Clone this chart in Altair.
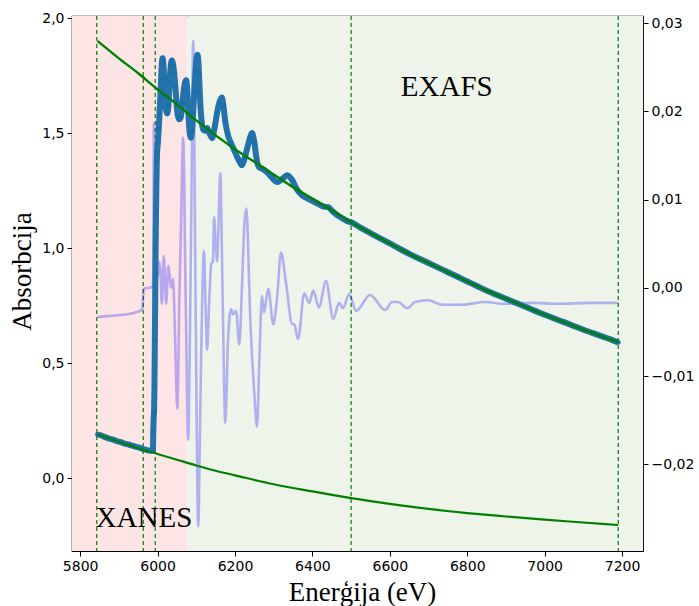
import altair as alt
import pandas as pd

# ---------------- data ----------------
# measured absorption (mu)
mu_E = [5845, 5855, 5865, 5875, 5885, 5895, 5905, 5915, 5925, 5935, 5945, 5955, 5963, 5970, 5978,
        5985, 5988, 5989, 5990, 5991, 5992, 5993, 5994, 5995, 5996, 5997, 5998, 5999, 6001, 6003,
        6005, 6007, 6009, 6011, 6013, 6015, 6017, 6019, 6022, 6025, 6028, 6031, 6034, 6037, 6040,
        6043, 6046, 6049, 6052, 6056, 6060, 6064, 6068, 6071, 6074, 6077, 6080, 6083, 6086, 6089,
        6092, 6095, 6098, 6101, 6103, 6105, 6107, 6109, 6111, 6114, 6118, 6123, 6128, 6134, 6141,
        6147, 6154, 6160, 6166, 6170, 6175, 6182, 6190, 6198, 6206, 6212, 6218, 6224, 6231, 6238,
        6244, 6250, 6256, 6262, 6270, 6283, 6296, 6309, 6322, 6335, 6348, 6360, 6372, 6385, 6400,
        6415, 6430, 6441, 6452, 6465, 6480, 6492, 6500, 6525, 6550, 6575, 6600, 6625, 6650, 6675,
        6700, 6725, 6750, 6775, 6800, 6825, 6850, 6875, 6900, 6925, 6950, 6975, 7000, 7025, 7050,
        7075, 7100, 7125, 7150, 7175, 7190]
mu_val = [0.190, 0.185, 0.178, 0.172, 0.167, 0.161, 0.156, 0.150, 0.146, 0.141, 0.136, 0.131, 0.126, 0.123, 0.120,
          0.118, 0.125, 0.200, 0.265, 0.290, 0.400, 0.600, 0.800, 1.000, 1.150, 1.280, 1.370, 1.420, 1.460, 1.520,
          1.580, 1.650, 1.730, 1.800, 1.825, 1.800, 1.740, 1.660, 1.600, 1.585, 1.620, 1.720, 1.790, 1.815, 1.800,
          1.760, 1.700, 1.630, 1.580, 1.560, 1.570, 1.630, 1.690, 1.720, 1.730, 1.680, 1.580, 1.500, 1.480, 1.510,
          1.590, 1.680, 1.770, 1.830, 1.840, 1.820, 1.760, 1.680, 1.610, 1.550, 1.515, 1.510, 1.522, 1.500, 1.478,
          1.520, 1.590, 1.635, 1.655, 1.620, 1.550, 1.490, 1.455, 1.425, 1.395, 1.375, 1.360, 1.385, 1.430, 1.475,
          1.500, 1.460, 1.385, 1.352, 1.345, 1.330, 1.305, 1.287, 1.300, 1.317, 1.295, 1.255, 1.232, 1.218, 1.205,
          1.192, 1.180, 1.178, 1.160, 1.142, 1.127, 1.116, 1.112, 1.088, 1.065, 1.042, 1.020, 0.997, 0.975, 0.955,
          0.935, 0.915, 0.895, 0.875, 0.855, 0.835, 0.815, 0.797, 0.780, 0.762, 0.745, 0.727, 0.710, 0.694, 0.678,
          0.661, 0.645, 0.630, 0.615, 0.600, 0.590]

# pre-edge fit (lower green curve)
pre_E = [5845, 5900, 5950, 6000, 6050, 6100, 6150, 6200, 6300, 6400, 6500, 6600, 6700, 6800, 6900, 7000, 7100, 7190]
pre_val = [0.190, 0.158, 0.130, 0.105, 0.080, 0.055, 0.032, 0.012, -0.027, -0.058, -0.087, -0.112, -0.134,
           -0.152, -0.167, -0.181, -0.193, -0.204]

# post-edge fit (upper green curve)
post_E = [5845, 5900, 5950, 6000, 6050, 6100, 6150, 6200, 6250, 6300, 6350, 6400, 6450, 6500, 6550, 6600,
          6650, 6700, 6750, 6800, 6850, 6900, 6950, 7000, 7050, 7100, 7150, 7190]
post_val = [1.900, 1.825, 1.760, 1.690, 1.625, 1.555, 1.490, 1.430, 1.375, 1.320, 1.265, 1.215, 1.165, 1.112,
            1.065, 1.020, 0.975, 0.935, 0.895, 0.855, 0.815, 0.780, 0.745, 0.710, 0.678, 0.645, 0.615, 0.590]

# derivative (right axis)
der_E = [5845, 5870, 5895, 5920, 5940, 5955, 5961, 5963, 5965, 5975, 5987, 5989, 5990.5, 5992, 5996,
         6000, 6004, 6008, 6011, 6016, 6022, 6028, 6035, 6040, 6045, 6051, 6056, 6061, 6066, 6071,
         6075, 6079, 6084, 6088, 6092, 6097, 6101, 6105, 6110, 6115, 6120, 6124, 6128, 6133, 6139,
         6143, 6146, 6150, 6154, 6158, 6162, 6166, 6170, 6175, 6182, 6190, 6195, 6203, 6211, 6218,
         6224, 6229, 6240, 6250, 6257, 6263, 6270, 6275, 6286, 6299, 6309, 6319, 6332, 6348, 6353,
         6363, 6379, 6392, 6402, 6417, 6435, 6454, 6469, 6479, 6495, 6513, 6549, 6588, 6606, 6621,
         6645, 6665, 6699, 6735, 6787, 6846, 6898, 6968, 7035, 7122, 7190]
der_val = [-0.0033, -0.0032, -0.0031, -0.0030, -0.0028, -0.0026, -0.0023, -0.0008, -0.0001, 0.0000, 0.0001,
           0.0015, 0.0186, 0.0060, 0.0030, 0.0011, 0.0030, 0.0015, -0.0018, 0.0036, -0.0018, 0.0025, 0.0000,
           0.0010, -0.0052, -0.0137, -0.0020, 0.0080, 0.0170, 0.0040, -0.0080, -0.0172, -0.0040, 0.0120,
           0.0280, 0.0050, -0.0150, -0.0270, -0.0150, -0.0020, 0.0042, -0.0020, -0.0070, -0.0020, 0.0028,
           0.0030, 0.0080, 0.0050, 0.0030, 0.0080, 0.0130, 0.0050, -0.0060, -0.0153, -0.0060, -0.0024,
           -0.0030, -0.0026, -0.0064, 0.0000, 0.0070, 0.0090, -0.0040, -0.0120, -0.0157, -0.0080, -0.0009,
           -0.0028, -0.0001, -0.0041, -0.0010, 0.0040, 0.0005, -0.0041, -0.0041, -0.0058, -0.0006, -0.0017,
           -0.0003, -0.0022, 0.0008, -0.0035, -0.0017, -0.0023, -0.0007, -0.0026, -0.0008, -0.0025, -0.0016,
           -0.0016, -0.0023, -0.0016, -0.0014, -0.0019, -0.0019, -0.0016, -0.0018, -0.0017, -0.0018, -0.0017,
           -0.0017]

# marker lines and regions
edge_lines = [5843, 5963, 5994, 6500, 7190]
region_names = ["XANES", "EXAFS"]
region_start = [5779, 6077]
region_end = [6077, 7254]
region_colors = ["#fde5e5", "#eef4e9"]

label_text = ["EXAFS", "XANES"]
label_E = [6747, 5965]
label_mu = [1.66, -0.213]

x_ticks = [5800, 6000, 6200, 6400, 6600, 6800, 7000, 7200]
y_ticks = [0.0, 0.5, 1.0, 1.5, 2.0]
d_ticks = [-0.02, -0.01, 0.0, 0.01, 0.02, 0.03]

X_DOM = [5779, 7254]
Y_DOM = [-0.317, 2.009]
D_DOM = [-0.0298, 0.0308]

# ---------------- tables ----------------
mu_df = pd.DataFrame({"E": mu_E, "v": mu_val})
pre_df = pd.DataFrame({"E": pre_E, "v": pre_val})
post_df = pd.DataFrame({"E": post_E, "v": post_val})
der_df = pd.DataFrame({"E": der_E, "d": der_val})
vl_df = pd.DataFrame({"E": edge_lines})
reg_df = pd.DataFrame({"name": region_names, "s": region_start, "e": region_end, "c": region_colors})
lab_df = pd.DataFrame({"t": label_text, "E": label_E, "v": label_mu})

TICK_FONT = "DejaVu Sans"
SERIF = "Liberation Serif"

xscale = alt.Scale(domain=X_DOM, nice=False, zero=False)
xaxis = alt.Axis(values=x_ticks, format="d", title="Enerģija (eV)", grid=False, domain=False,
                 labelFont=TICK_FONT, labelFontSize=14, labelColor="black", tickColor="black",
                 tickSize=5, labelPadding=3, titleFont=SERIF, titleFontSize=27,
                 titleFontWeight="normal", titleColor="black", titleX=290, titleY=49,
                 titleBaseline="alphabetic", titleAlign="center")
yscale = alt.Scale(domain=Y_DOM, nice=False, zero=False)
yaxis = alt.Axis(values=y_ticks, labelExpr="replace(format(datum.value, '.1f'), '.', ',')",
                 title="Absorbcija", grid=False, domain=False, labelFont=TICK_FONT, labelFontSize=14,
                 labelColor="black", tickColor="black", tickSize=5, labelPadding=3, titleFont=SERIF,
                 titleFontSize=27, titleFontWeight="normal", titleColor="black", titleAngle=270,
                 titleX=-50, titleY=255, titleBaseline="middle", titleAlign="center")
dscale = alt.Scale(domain=D_DOM, nice=False, zero=False)
daxis = alt.Axis(values=d_ticks, orient="right", labelExpr="replace(format(datum.value, '.2f'), '.', ',')",
                 title="", grid=False, domain=False, labelFont=TICK_FONT, labelFontSize=14,
                 labelColor="black", tickColor="black", tickSize=5, labelPadding=3)

# background regions + dashed markers
regions = alt.Chart(reg_df).mark_rect(clip=True).encode(
    x=alt.X("s:Q", scale=xscale, axis=xaxis),
    x2="e:Q",
    color=alt.Color("c:N", scale=None, legend=None),
)
vlines = alt.Chart(vl_df).mark_rule(color="green", strokeWidth=1.2, strokeDash=[4, 3]).encode(
    x=alt.X("E:Q", scale=xscale, axis=xaxis)
)
bg = alt.layer(regions, vlines)

deriv = alt.Chart(der_df).mark_line(color="#0000ff", opacity=0.27, strokeWidth=2.6, clip=True,
                                    interpolate="monotone").encode(
    x=alt.X("E:Q", scale=xscale, axis=xaxis),
    y=alt.Y("d:Q", scale=dscale, axis=daxis),
)

mu_band = alt.Chart(mu_df).mark_line(color="#2473aa", strokeWidth=6, interpolate="monotone").encode(
    x=alt.X("E:Q", scale=xscale, axis=xaxis),
    y=alt.Y("v:Q", scale=yscale, axis=yaxis),
)
mu_pts = alt.Chart(mu_df).mark_circle(color="#1f6fab", size=24, opacity=1).encode(
    x=alt.X("E:Q", scale=xscale, axis=xaxis),
    y=alt.Y("v:Q", scale=yscale, axis=yaxis),
)
pre_line = alt.Chart(pre_df).mark_line(color="green", strokeWidth=2.2, interpolate="monotone").encode(
    x=alt.X("E:Q", scale=xscale, axis=xaxis),
    y=alt.Y("v:Q", scale=yscale, axis=yaxis),
)
post_line = alt.Chart(post_df).mark_line(color="green", strokeWidth=2.4, interpolate="monotone").encode(
    x=alt.X("E:Q", scale=xscale, axis=xaxis),
    y=alt.Y("v:Q", scale=yscale, axis=yaxis),
)
labels = alt.Chart(lab_df).mark_text(font=SERIF, fontSize=29, color="black", align="center",
                                     baseline="alphabetic").encode(
    x=alt.X("E:Q", scale=xscale, axis=xaxis),
    y=alt.Y("v:Q", scale=yscale, axis=yaxis),
    text="t:N",
)
fg = alt.layer(mu_band, mu_pts, pre_line, post_line, labels)

chart = alt.layer(bg, deriv, fg).resolve_scale(y="independent").properties(
    width=571,
    height=535,
    padding={"left": 72, "top": 16, "right": 56, "bottom": 55},
    autosize=alt.AutoSizeParams(type="none"),
    background="white",
).configure_view(stroke="black", strokeWidth=1.2)

chart.save("out.html", embed_options={"renderer": "svg", "actions": False})
